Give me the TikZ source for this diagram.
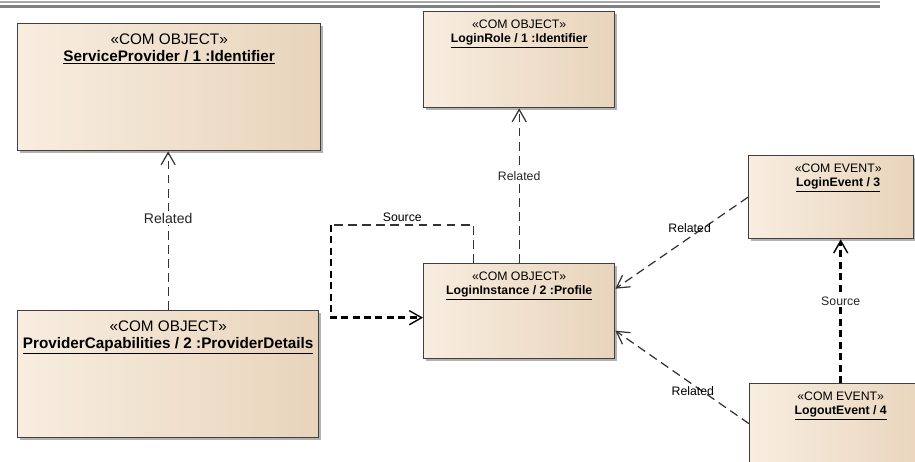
\documentclass[tikz,border=0pt]{standalone}
\usepackage{fontspec}
\setmainfont{Liberation Sans}
\usetikzlibrary{arrows.meta,shadows}

\definecolor{tanL}{HTML}{F8EDE0}
\definecolor{tanR}{HTML}{E8D4BB}

\tikzset{
	comobj/.style={draw=black!75, line width=0.8pt, left color=tanL, right color=tanR, anchor=north west, inner sep=0pt,
		drop shadow={shadow xshift=1.2pt, shadow yshift=-1.2pt, fill=black, opacity=0.3}},
	bighead/.style={anchor=north, align=center, inner sep=0pt, yshift=-6pt, font=\fontsize{8.7}{9.4}\selectfont},
	smallhead/.style={anchor=north, align=center, inner sep=0pt, yshift=-5pt, font=\fontsize{7}{8}\selectfont},
	rel/.style={draw=black!80, line width=0.7pt, dash pattern=on 5pt off 3pt, arrows={-{Straight Barb[length=7pt,width=8pt]}}},
	src/.style={draw=black, line width=1.4pt, dash pattern=on 4pt off 2.5pt, arrows={-{Straight Barb[length=7pt,width=8pt,line width=0.8pt]}}},
	tag/.style={fill=white, inner sep=1pt, font=\fontsize{7}{8}\selectfont, text=black!85}
}

\begin{document}
\begin{tikzpicture}[x=0.02cm, y=-0.02cm]
	\useasboundingbox (0,0) rectangle (915,462);
	% header rule
	\draw[black!35, line width=0.6pt] (0,2) -- (880,2);
	\draw[black!50, line width=1.6pt] (0,6.5) -- (880,6.5);

	% objects
	\node[comobj, minimum width=6.06cm, minimum height=2.54cm,
		label={[bighead]north:«COM OBJECT»\\\underline{\textbf{ServiceProvider / 1 :Identifier}}}] (sp) at (17,23) {};
	\node[comobj, minimum width=6.02cm, minimum height=2.54cm,
		label={[bighead]north:«COM OBJECT»\\\underline{\textbf{ProviderCapabilities / 2 :ProviderDetails}}}] (pc) at (17,310) {};
	\node[comobj, minimum width=3.82cm, minimum height=1.92cm,
		label={[smallhead]north:«COM OBJECT»\\\underline{\textbf{LoginRole / 1 :Identifier}}}] (lr) at (423,11) {};
	\node[comobj, minimum width=3.82cm, minimum height=1.9cm,
		label={[smallhead]north:«COM OBJECT»\\\underline{\textbf{LoginInstance / 2 :Profile}}}] (li) at (423,263) {};
	\node[comobj, minimum width=3.3cm, minimum height=1.66cm,
		label={[smallhead, xshift=4pt]north:«COM EVENT»\\\underline{\textbf{LoginEvent / 3}}}] (le) at (748,155) {};
	\node[comobj, minimum width=3.64cm, minimum height=1.9cm,
		label={[smallhead]north:«COM EVENT»\\\underline{\textbf{LogoutEvent / 4}}}] (lo) at (749,383) {};

	% links
	\draw[rel] (pc.north) -- (pc.north |- sp.south) node[tag, pos=0.58, font=\fontsize{8}{9}\selectfont] {Related};
	\draw[rel] (li.north) -- (lr.south) node[tag, pos=0.56] {Related};
	\coordinate (lc) at (331,225);
	\draw[rel, arrows=-] ([xshift=-0.91cm]li.north) |- (lc) node[pos=0.75, above=1.5pt, inner sep=0pt, font=\fontsize{7}{8}\selectfont] {Source};
	\draw[src] (lc) |- ([yshift=-0.13cm]li.west);
	\draw[rel] (le.west) -- ([yshift=0.45cm]li.east) node[pos=0.44, above=2.5pt, inner sep=0pt, font=\fontsize{7}{8}\selectfont] {Related};
	\draw[rel] ([yshift=0.15cm]lo.west) -- ([yshift=-0.39cm]li.east) node[pos=0.42, below=1pt, inner sep=0pt, font=\fontsize{7}{8}\selectfont] {Related};
	\draw[src] (lo.north) -- (lo.north |- le.south) node[tag, pos=0.57] {Source};
\end{tikzpicture}
\end{document}
